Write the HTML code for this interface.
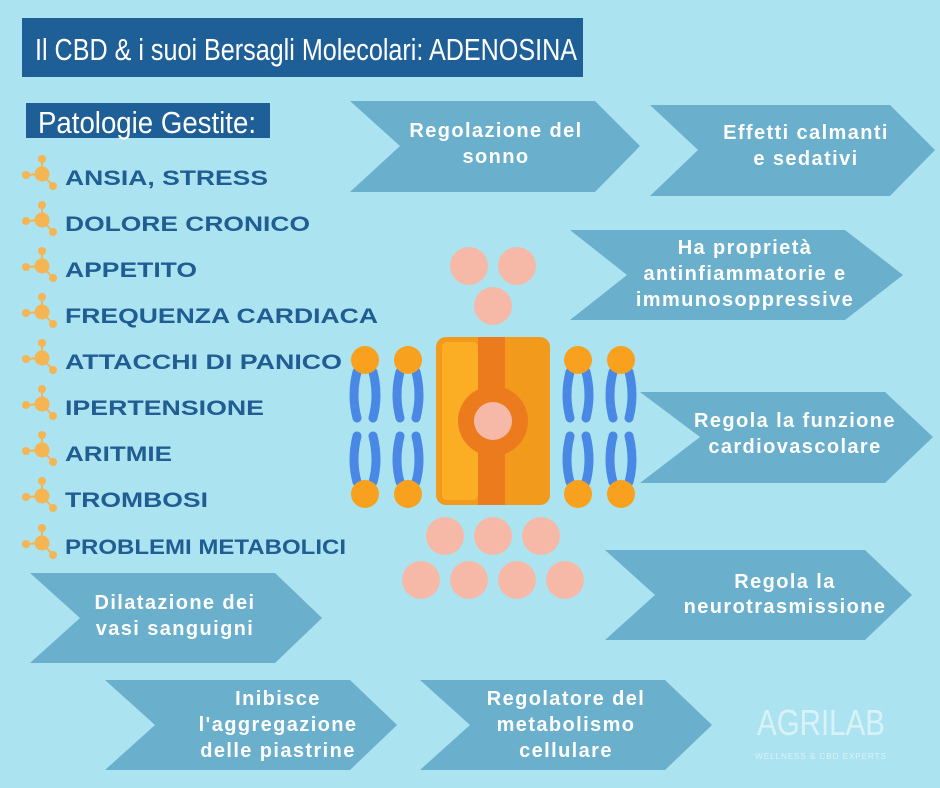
<!DOCTYPE html>
<html><head><meta charset="utf-8"><style>
html,body{margin:0;padding:0;}
body{width:940px;height:788px;background:#ace3f0;overflow:hidden;}
svg{display:block}
.ct{font-family:"Liberation Sans",sans-serif;font-weight:bold;font-size:20px;letter-spacing:1.4px;fill:#fff;text-anchor:middle;}
.li{font-family:"Liberation Sans",sans-serif;font-weight:bold;font-size:21px;fill:#1f5d92;}
</style></head><body>
<svg width="940" height="788" viewBox="0 0 940 788" xmlns="http://www.w3.org/2000/svg">
<rect width="940" height="788" fill="#ace3f0"/>
<!-- title -->
<rect x="22" y="18" width="561" height="59" fill="#1f5f98"/>
<text x="35" y="60" font-family="Liberation Sans Narrow, Liberation Sans, sans-serif" font-size="31" fill="#fff" textLength="542" lengthAdjust="spacingAndGlyphs">Il CBD &amp; i suoi Bersagli Molecolari: ADENOSINA</text>
<rect x="26" y="103" width="244" height="35" fill="#1f5f98"/>
<text x="38" y="133" font-family="Liberation Sans Narrow, Liberation Sans, sans-serif" font-size="31" fill="#fff" textLength="218" lengthAdjust="spacingAndGlyphs">Patologie Gestite:</text>

<!-- chevrons -->
<g fill="#6aafcc">
<polygon points="350,101 595,101 640,146 595,192 350,192 400,146"/>
<polygon points="650,105 890,105 935,150 890,196 650,196 698,150"/>
<polygon points="570,230 845,230 903,275 845,320 570,320 627,275"/>
<polygon points="640,392 885,392 933,437 885,483 640,483 700,437"/>
<polygon points="605,550 865,550 912,595 865,640 605,640 655,595"/>
<polygon points="30,573 275,573 322,618 275,663 30,663 80,618"/>
<polygon points="105,680 350,680 397,725 350,770 105,770 155,725"/>
<polygon points="420,680 665,680 712,725 665,770 420,770 470,725"/>
</g>
<text class="ct" x="496" y="137">Regolazione del</text>
<text class="ct" x="496" y="163">sonno</text>
<text class="ct" x="806" y="139">Effetti calmanti</text>
<text class="ct" x="806" y="165">e sedativi</text>
<text class="ct" x="745" y="254">Ha proprietà</text>
<text class="ct" x="745" y="280">antinfiammatorie e</text>
<text class="ct" x="745" y="306">immunosoppressive</text>
<text class="ct" x="795" y="427">Regola la funzione</text>
<text class="ct" x="795" y="453">cardiovascolare</text>
<text class="ct" x="785" y="588">Regola la</text>
<text class="ct" x="785" y="613">neurotrasmissione</text>
<text class="ct" x="175" y="609">Dilatazione dei</text>
<text class="ct" x="175" y="635">vasi sanguigni</text>
<text class="ct" x="278" y="705">Inibisce</text>
<text class="ct" x="278" y="731">l'aggregazione</text>
<text class="ct" x="278" y="757">delle piastrine</text>
<text class="ct" x="566" y="705">Regolatore del</text>
<text class="ct" x="566" y="731">metabolismo</text>
<text class="ct" x="566" y="757">cellulare</text>

<!-- list -->
<defs>
<g id="ic" fill="#f5b553" stroke="#f5b553">
<line x1="42" y1="0" x2="42" y2="-15" stroke-width="2"/>
<line x1="42" y1="0" x2="26" y2="1" stroke-width="2"/>
<line x1="42" y1="0" x2="53" y2="12" stroke-width="2"/>
<circle cx="42" cy="0" r="7.5" stroke="none"/>
<circle cx="42" cy="-15" r="4" stroke="none"/>
<circle cx="26" cy="1" r="4" stroke="none"/>
<circle cx="53" cy="12" r="4" stroke="none"/>
</g>
</defs>
<use href="#ic" y="174"/><text class="li" x="65" y="185" textLength="203" lengthAdjust="spacingAndGlyphs">ANSIA, STRESS</text>
<use href="#ic" y="220"/><text class="li" x="65" y="231" textLength="245" lengthAdjust="spacingAndGlyphs">DOLORE CRONICO</text>
<use href="#ic" y="266"/><text class="li" x="65" y="277" textLength="132" lengthAdjust="spacingAndGlyphs">APPETITO</text>
<use href="#ic" y="312"/><text class="li" x="65" y="323" textLength="313" lengthAdjust="spacingAndGlyphs">FREQUENZA CARDIACA</text>
<use href="#ic" y="358"/><text class="li" x="65" y="369" textLength="277" lengthAdjust="spacingAndGlyphs">ATTACCHI DI PANICO</text>
<use href="#ic" y="404"/><text class="li" x="65" y="415" textLength="199" lengthAdjust="spacingAndGlyphs">IPERTENSIONE</text>
<use href="#ic" y="450"/><text class="li" x="65" y="461" textLength="107" lengthAdjust="spacingAndGlyphs">ARITMIE</text>
<use href="#ic" y="496"/><text class="li" x="65" y="507" textLength="143" lengthAdjust="spacingAndGlyphs">TROMBOSI</text>
<use href="#ic" y="543"/><text class="li" x="65" y="554" textLength="281" lengthAdjust="spacingAndGlyphs">PROBLEMI METABOLICI</text>

<!-- pink balls -->
<g fill="#f6b9a8">
<circle cx="469" cy="266" r="19"/><circle cx="517" cy="266" r="19"/><circle cx="493" cy="306" r="19"/>
<circle cx="445" cy="536" r="19"/><circle cx="493" cy="536" r="19"/><circle cx="541" cy="536" r="19"/>
<circle cx="421" cy="580" r="19"/><circle cx="469" cy="580" r="19"/><circle cx="517" cy="580" r="19"/><circle cx="565" cy="580" r="19"/>
</g>

<!-- lipids -->
<defs>
<g id="lp">
<g stroke="#4a88e6" stroke-width="9" stroke-linecap="round" fill="none">
<path d="M-8,372 Q-14,395 -8,418"/><path d="M8,372 Q14,395 8,418"/>
<path d="M-8,436 Q-14,460 -8,482"/><path d="M8,436 Q14,460 8,482"/>
</g>
<circle cx="0" cy="360" r="14" fill="#f7a11e"/>
<circle cx="0" cy="494" r="14" fill="#f7a11e"/>
</g>
</defs>
<use href="#lp" x="365"/><use href="#lp" x="408"/><use href="#lp" x="578"/><use href="#lp" x="621"/>

<!-- protein -->
<rect x="436" y="337" width="114" height="168" rx="10" fill="#f29a1c"/>
<rect x="442" y="342" width="36" height="158" rx="5" fill="#fbae24"/>
<rect x="478" y="337" width="27" height="168" fill="#ec7b1e"/>
<circle cx="493" cy="421" r="35" fill="#ec7b1e"/>
<circle cx="493" cy="421" r="19" fill="#f6b9a8"/>

<!-- logo -->
<text x="821" y="735" font-family="Liberation Sans, sans-serif" font-size="36" fill="#d8f2f8" text-anchor="middle" textLength="128" lengthAdjust="spacingAndGlyphs">AGRILAB</text>
<text x="821" y="759" font-family="Liberation Sans, sans-serif" font-size="8" fill="#d8f2f8" text-anchor="middle" letter-spacing="1">WELLNESS &amp; CBD EXPERTS</text>
</svg>
</body></html>
